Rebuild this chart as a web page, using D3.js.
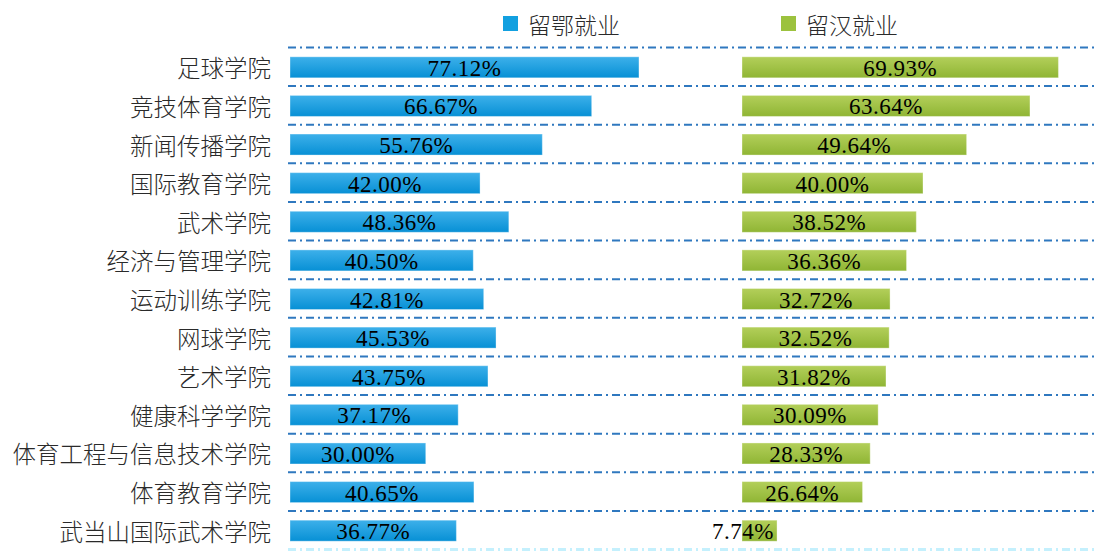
<!DOCTYPE html>
<html><head><meta charset="utf-8">
<script src="https://cdn.jsdelivr.net/npm/d3@7"></script>
<style>html,body{margin:0;padding:0;background:#fff;}svg{display:block;}</style>
</head><body>
<script>
const categories = ["足球学院","竞技体育学院","新闻传播学院","国际教育学院","武术学院","经济与管理学院","运动训练学院","网球学院","艺术学院","健康科学学院","体育工程与信息技术学院","体育教育学院","武当山国际武术学院"];
const stayHubei = [77.12,66.67,55.76,42.00,48.36,40.50,42.81,45.53,43.75,37.17,30.00,40.65,36.77];
const stayWuhan = [69.93,63.64,49.64,40.00,38.52,36.36,32.72,32.52,31.82,30.09,28.33,26.64,7.74];
const seriesNames = ["留鄂就业","留汉就业"];

const W = 1097, H = 551;
const svg = d3.select("body").append("svg").attr("width", W).attr("height", H);
const defs = svg.append("defs");
function grad(id, c1, c2){
  const g = defs.append("linearGradient").attr("id", id).attr("x1",0).attr("y1",0).attr("x2",0).attr("y2",1);
  g.append("stop").attr("offset","0%").attr("stop-color",c1);
  g.append("stop").attr("offset","100%").attr("stop-color",c2);
}
grad("gBlue","#3db0ea","#0790d5");
grad("gGreen","#b3cf5a","#8fb534");

const y = d3.scaleBand().domain(categories).range([48, 550]).paddingInner(0.456).paddingOuter(0.228);
const x = d3.scaleLinear().domain([0,100]).range([0, 452.5]);
const leftX = 290, rightX = 742;

// gridlines
const lineYs = d3.range(categories.length).map(i => y(categories[i]) - y.step()*y.paddingInner()/2 - 0.5);
svg.append("g").selectAll("line").data(lineYs).join("line")
  .attr("x1", 288).attr("x2", W).attr("y1", d=>d).attr("y2", d=>d)
  .attr("stroke","#2f78bf").attr("stroke-width",2).attr("stroke-dasharray","8,4,2,4");
const lastY = y(categories[categories.length-1]) + y.bandwidth() + y.step()*y.paddingInner()/2 - 0.5;
svg.append("line").attr("x1",288).attr("x2",W).attr("y1",lastY).attr("y2",lastY)
  .attr("stroke","#c4f0fd").attr("stroke-width",3).attr("stroke-dasharray","8,4,2,4");

// category labels
svg.append("g").selectAll("text").data(categories).join("text")
  .attr("x", 271).attr("y", d => y(d) + y.bandwidth()/2)
  .attr("text-anchor","end").attr("dominant-baseline","central")
  .attr("font-family","'Noto Sans CJK SC'").attr("font-weight",300).attr("font-size",23.5)
  .attr("fill","#2a2a2a").text(d=>d);

function drawSeries(vals, x0, fill){
  const g = svg.append("g");
  g.selectAll("rect").data(vals).join("rect")
    .attr("x", x0).attr("y", (d,i)=>y(categories[i]))
    .attr("width", d=>x(d)).attr("height", y.bandwidth())
    .attr("fill", fill).attr("stroke","rgba(255,255,255,0.35)").attr("stroke-width",1);
  g.selectAll("text").data(vals).join("text")
    .attr("x", d => { const w = x(d); return w < 60 ? x0 + w - 3 : x0 + w/2; })
    .attr("text-anchor", d => x(d) < 60 ? "end" : "middle")
    .attr("y", (d,i)=>y(categories[i]) + y.bandwidth()/2 + 1)
    .attr("dominant-baseline","central")
    .attr("font-family","'Liberation Serif'").attr("font-size",23)
    .attr("letter-spacing","0.5px")
    .attr("fill","#000").text(d=>d.toFixed(2)+"%");
}
drawSeries(stayHubei, leftX, "url(#gBlue)");
drawSeries(stayWuhan, rightX, "url(#gGreen)");

// legend
const legend = [{name:seriesNames[0], x:503, c:"#12a0e0"},{name:seriesNames[1], x:781, c:"#9cc23e"}];
const lg = svg.append("g");
legend.forEach(l=>{
  lg.append("rect").attr("x",l.x).attr("y",16).attr("width",15).attr("height",15).attr("fill",l.c);
  lg.append("text").attr("x",l.x+25).attr("y",24).attr("dominant-baseline","central")
    .attr("font-family","'Noto Sans CJK SC'").attr("font-weight",300).attr("font-size",23)
    .attr("fill","#2a2a2a").text(l.name);
});
</script>
</body></html>
